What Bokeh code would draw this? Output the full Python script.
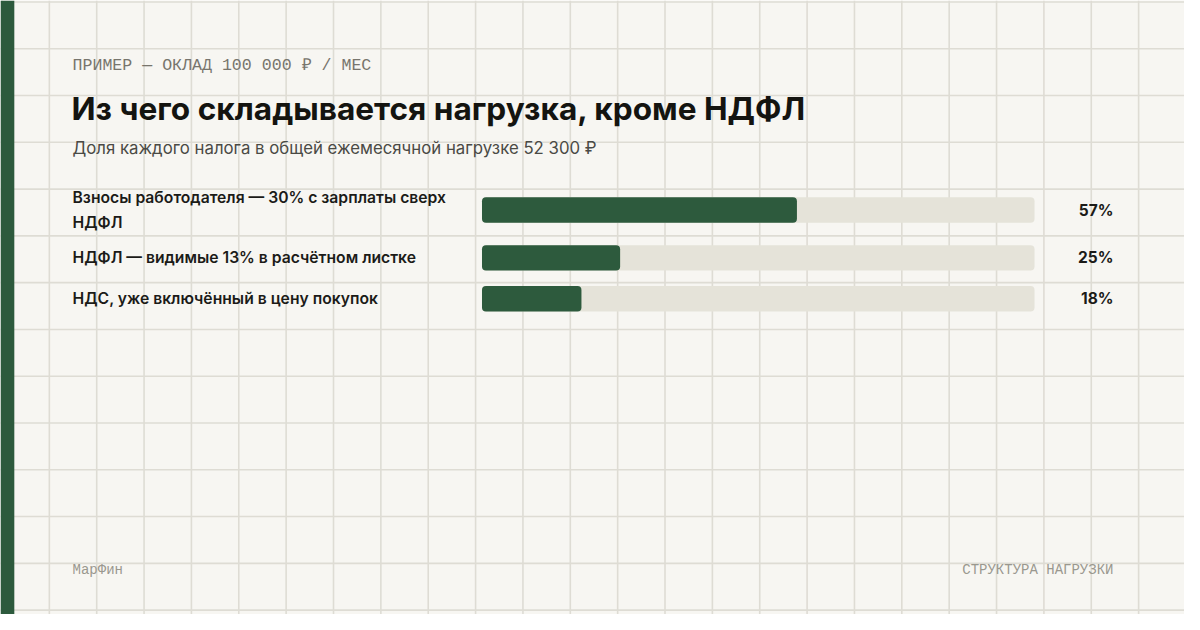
from bokeh.plotting import figure
from bokeh.models import Range1d, ColumnDataSource
from bokeh.core.properties import value
from bokeh.embed import file_html
from bokeh.resources import INLINE

# ---- data ----
categories = [
    "Взносы работодателя — 30% с зарплаты сверх\nНДФЛ",
    "НДФЛ — видимые 13% в расчётном листке",
    "НДС, уже включённый в цену покупок",
]
shares = [57, 25, 18]
value_labels = ["57%", "25%", "18%"]
kicker = "ПРИМЕР — ОКЛАД 100 000 ₽ / МЕС"
title = "Из чего складывается нагрузка, кроме НДФЛ"
subtitle = "Доля каждого налога в общей ежемесячной нагрузке 52 300 ₽"
footer_left = "МарФин"
footer_right = "СТРУКТУРА НАГРУЗКИ"

# ---- layout (reference pixel space) ----
W, H = 1200, 630
M = 8
row_y = [215, 264, 306]
track_left, track_width = 488, 560
bar_h = 26
BG = "#F7F6F2"
GREEN = "#2D5A3D"
TRACK = "#E5E3D9"
GRID = "#DEDCD4"
MEDIUM = value("'Inter SemiBold', 'Inter Semi Bold', 'Inter Medium', Inter")

p = figure(width=W - 2 * M, height=H - 2 * M,
           x_range=Range1d(0, W), y_range=Range1d(H, 0),
           output_backend="svg", toolbar_location=None,
           x_axis_location=None, y_axis_location=None,
           min_border=0, outline_line_color=None,
           background_fill_color=BG, border_fill_color=BG)
p.xgrid.visible = False
p.ygrid.visible = False

# percent scale for bars: 0 -> track_left, 100 -> track_left + track_width
ppu = track_width / 100.0
p.extra_x_ranges = {"pct": Range1d(-track_left / ppu, (W - track_left) / ppu)}

# background grid
gx = list(range(1, W + 1, 48))
gy = list(range(1, H + 1, 48))
p.segment(x0=[x + 0.5 for x in gx], x1=[x + 0.5 for x in gx], y0=[0] * len(gx), y1=[H] * len(gx),
          line_color=GRID, line_width=1.6)
p.segment(x0=[0] * len(gy), x1=[W] * len(gy), y0=[y + 0.5 for y in gy], y1=[y + 0.5 for y in gy],
          line_color=GRID, line_width=1.6)

# left accent stripe
p.quad(left=[0], right=[14], bottom=[H], top=[0], fill_color=GREEN, line_color=None)

# bars
src = ColumnDataSource(dict(y=row_y, share=shares, full=[100] * len(shares),
                            cat=categories, lab=value_labels))
p.hbar(y="y", left=0, right="full", height=bar_h, source=src, x_range_name="pct",
       fill_color=TRACK, line_color=None, border_radius=4)
p.hbar(y="y", left=0, right="share", height=bar_h, source=src, x_range_name="pct",
       fill_color=GREEN, line_color=None, border_radius=4)

# category labels
p.text(x=73, y="y", text="cat", source=src, text_font=MEDIUM,
       text_font_size="15.7px", text_color="#1B1B18",
       text_baseline="middle", text_align="left", text_line_height=1.3)
# value labels
p.text(x=1128, y="y", text="lab", source=src, text_font=value("Inter"),
       text_font_size="15.5px", text_font_style="bold", text_color="#1B1B18",
       text_baseline="middle", text_align="right")

# header texts
p.text(x=[73], y=[67], text=[kicker], text_font=value("Liberation Mono"),
       text_font_size="16.6px", text_color="#77756D", text_baseline="middle")
p.text(x=[72], y=[111], text=[title], text_font=value("Inter"),
       text_font_size="31.6px", text_font_style="bold", text_color="#141410",
       text_baseline="middle")
p.text(x=[73], y=[151], text=[subtitle], text_font=value("Inter"),
       text_font_size="16.8px", text_color="#4A4A45", text_baseline="middle")

# footer
p.text(x=[73], y=[584], text=[footer_left], text_font=value("Liberation Mono"),
       text_font_size="14px", text_color="#9A988F", text_baseline="middle")
p.text(x=[1128], y=[584], text=[footer_right], text_font=value("Liberation Mono"),
       text_font_size="14px", text_color="#9A988F", text_baseline="middle", text_align="right")

open("out.html", "w").write(file_html(p, INLINE))
